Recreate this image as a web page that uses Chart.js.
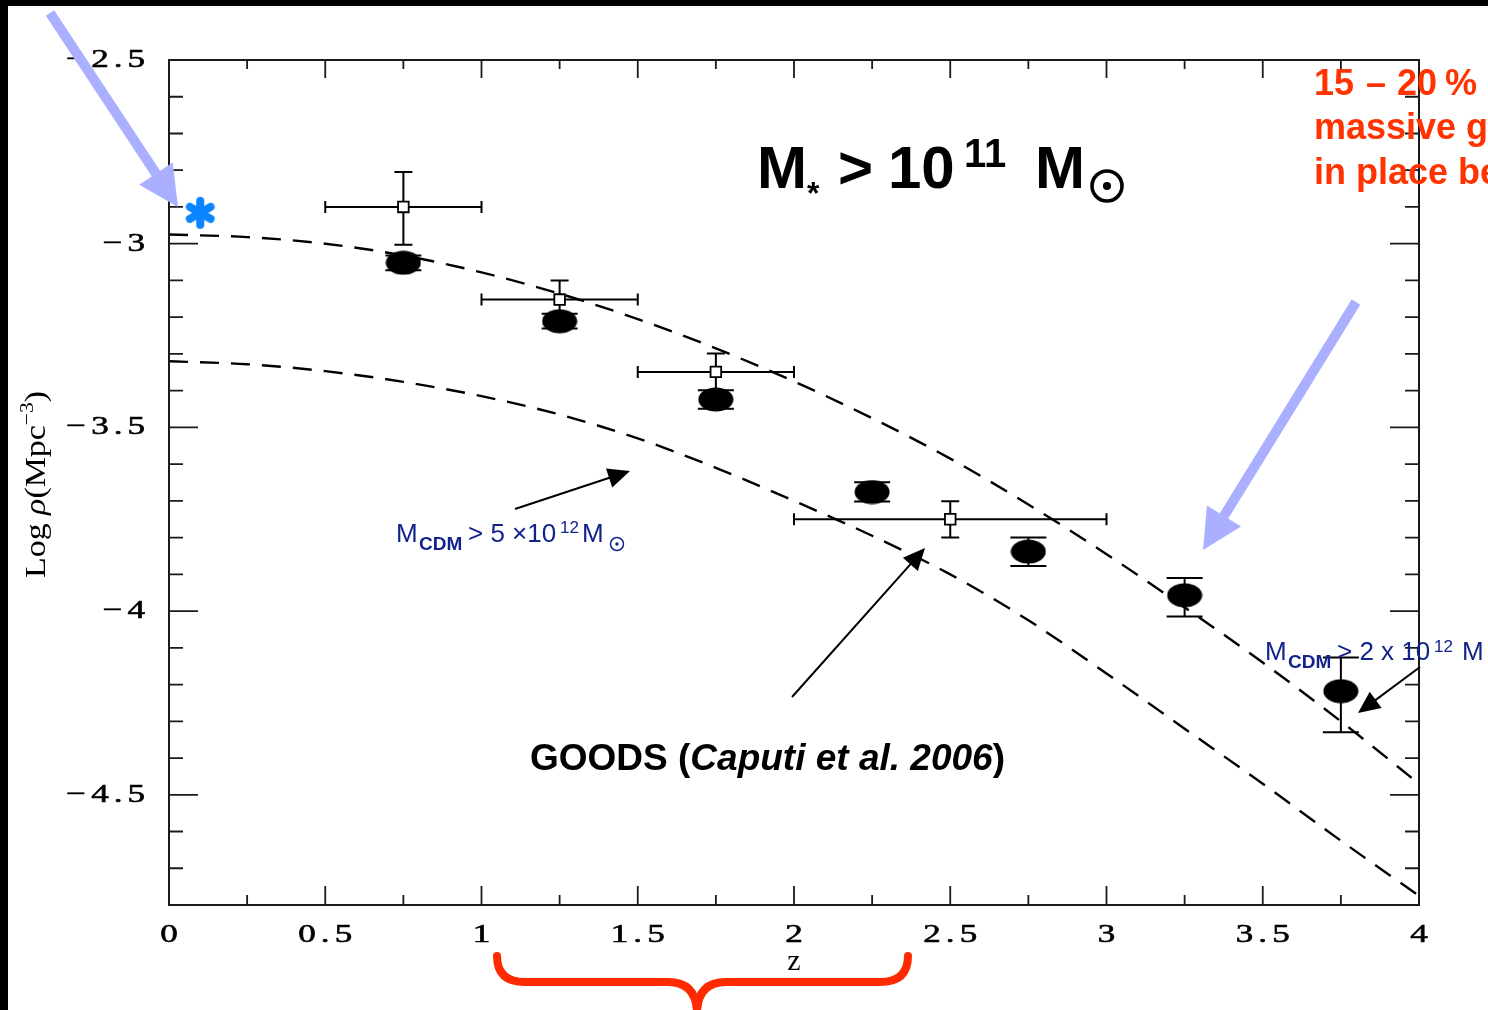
<!DOCTYPE html>
<html>
<head>
<meta charset="utf-8">
<title>Number density of massive galaxies</title>
<script src="https://cdn.jsdelivr.net/npm/chart.js@4.4.1/dist/chart.umd.min.js"></script>
<style>
  html, body { margin: 0; padding: 0; background: #000; overflow: hidden; }
  #densityChart { display: block; }
</style>
</head>
<body>
<canvas id="densityChart" width="1488" height="1010"></canvas>
<script>
// CDM halo number density above two mass cuts (dashed curves)
const zModel = [0, 0.25, 0.5, 0.75, 1, 1.25, 1.5, 1.75, 2, 2.25, 2.5, 2.75, 3, 3.25, 3.5, 3.75, 4];
const logRhoHalo2e12 = [-2.975, -2.982, -3.0, -3.032, -3.078, -3.136, -3.205, -3.285, -3.375, -3.475, -3.585, -3.71, -3.845, -3.99, -4.14, -4.30, -4.47];
const logRhoHalo5e12 = [-3.32, -3.328, -3.347, -3.376, -3.415, -3.465, -3.53, -3.61, -3.70, -3.795, -3.90, -4.025, -4.17, -4.32, -4.47, -4.625, -4.775];

// GOODS bins (Caputi et al. 2006), filled ellipses
const zGoods = [0.75, 1.25, 1.75, 2.25, 2.75, 3.25, 3.75];
const logRhoGoods = [-3.052, -3.211, -3.424, -3.676, -3.838, -3.957, -4.218];
const goodsErrUp = [0.02, 0.02, 0.025, 0.027, 0.038, 0.047, 0.092];
const goodsErrDown = [0.02, 0.02, 0.025, 0.026, 0.039, 0.058, 0.112];

// wide-field bins, open squares with redshift ranges
const zWide = [0.75, 1.25, 1.75, 2.5];
const logRhoWide = [-2.90, -3.152, -3.349, -3.75];
const zWideLo = [0.5, 1.0, 1.5, 2.0];
const zWideHi = [1.0, 1.5, 2.0, 3.0];
const wideErrUp = [0.095, 0.052, 0.05, 0.049];
const wideErrDown = [0.103, 0.045, 0.05, 0.05];

// local value
const zLocal = [0.1];
const logRhoLocal = [-2.916];

const xTickLabels = ['0', '0.5', '1', '1.5', '2', '2.5', '3', '3.5', '4'];
const yTickLabels = ['−2.5', '−3', '−3.5', '−4', '−4.5'];

const SERIF = '"Liberation Serif", "DejaVu Serif", serif';
const SANS = '"Liberation Sans", Arial, sans-serif';
const NAVY = '#13238c';
const RED = '#ff3300';

function toPoints(xs, ys) {
  return xs.map((v, i) => ({ x: v, y: ys[i] }));
}

function makeEllipseMarker() {
  const c = document.createElement('canvas');
  c.width = 36; c.height = 25;
  const g = c.getContext('2d');
  g.fillStyle = '#000';
  g.beginPath();
  g.ellipse(18, 12.5, 17.5, 12, 0, 0, Math.PI * 2);
  g.fill();
  return c;
}

function makeStarMarker() {
  const c = document.createElement('canvas');
  c.width = 40; c.height = 40;
  const g = c.getContext('2d');
  g.strokeStyle = '#0a84ff';
  g.lineWidth = 8;
  g.lineCap = 'round';
  g.beginPath();
  [90, 30, 150].forEach(deg => {
    const a = deg * Math.PI / 180;
    g.moveTo(20 - 12 * Math.cos(a), 20 - 12 * Math.sin(a));
    g.lineTo(20 + 12 * Math.cos(a), 20 + 12 * Math.sin(a));
  });
  g.stroke();
  return c;
}

// spaced, horizontally stretched text for the axis numbers
function drawSpaced(ctx, text, x, y, align, sx, gap) {
  const chars = Array.from(text);
  const widths = chars.map(ch => ctx.measureText(ch).width * sx);
  const total = widths.reduce((s, w) => s + w, 0) + gap * (chars.length - 1);
  let cx = align === 'right' ? x - total : align === 'center' ? x - total / 2 : x;
  chars.forEach((ch, i) => {
    ctx.save();
    ctx.translate(cx, y);
    ctx.scale(sx, 1);
    ctx.textAlign = 'left';
    ctx.fillText(ch, 0, 0);
    ctx.strokeText(ch, 0, 0);
    ctx.restore();
    cx += widths[i] + gap;
  });
}

function drawSun(ctx, cx, cy, r, lw, color) {
  ctx.save();
  ctx.strokeStyle = color;
  ctx.fillStyle = color;
  ctx.lineWidth = lw;
  ctx.beginPath();
  ctx.arc(cx, cy, r, 0, Math.PI * 2);
  ctx.stroke();
  ctx.beginPath();
  ctx.arc(cx, cy, Math.max(1.6, r * 0.27), 0, Math.PI * 2);
  ctx.fill();
  ctx.restore();
}

function drawPieces(ctx, color, pieces) {
  ctx.save();
  ctx.fillStyle = color;
  ctx.textAlign = 'left';
  ctx.textBaseline = 'alphabetic';
  pieces.forEach(([t, font, x, y]) => {
    ctx.font = font;
    ctx.fillText(t, x, y);
  });
  ctx.restore();
}

function drawArrow(ctx, x0, y0, x1, y1, color, lw, headLen, headHalf) {
  const dx = x1 - x0, dy = y1 - y0;
  const len = Math.hypot(dx, dy);
  const ux = dx / len, uy = dy / len;
  const bx = x1 - ux * headLen, by = y1 - uy * headLen;
  ctx.save();
  ctx.strokeStyle = color;
  ctx.fillStyle = color;
  ctx.lineWidth = lw;
  ctx.beginPath();
  ctx.moveTo(x0, y0);
  ctx.lineTo(bx + ux * 2, by + uy * 2);
  ctx.stroke();
  ctx.beginPath();
  ctx.moveTo(x1, y1);
  ctx.lineTo(bx - uy * headHalf, by + ux * headHalf);
  ctx.lineTo(bx + uy * headHalf, by - ux * headHalf);
  ctx.closePath();
  ctx.fill();
  ctx.restore();
}

function drawErrorBars(chart) {
  const { ctx, scales: { x, y } } = chart;
  ctx.save();
  ctx.strokeStyle = '#000';
  ctx.lineWidth = 2;
  ctx.beginPath();
  zGoods.forEach((z, i) => {
    const px = x.getPixelForValue(z);
    const top = y.getPixelForValue(logRhoGoods[i] + goodsErrUp[i]);
    const bot = y.getPixelForValue(logRhoGoods[i] - goodsErrDown[i]);
    ctx.moveTo(px, top); ctx.lineTo(px, bot);
    ctx.moveTo(px - 18, top); ctx.lineTo(px + 18, top);
    ctx.moveTo(px - 18, bot); ctx.lineTo(px + 18, bot);
  });
  zWide.forEach((z, i) => {
    const px = x.getPixelForValue(z);
    const py = y.getPixelForValue(logRhoWide[i]);
    const top = y.getPixelForValue(logRhoWide[i] + wideErrUp[i]);
    const bot = y.getPixelForValue(logRhoWide[i] - wideErrDown[i]);
    const left = x.getPixelForValue(zWideLo[i]);
    const right = x.getPixelForValue(zWideHi[i]);
    ctx.moveTo(px, top); ctx.lineTo(px, bot);
    ctx.moveTo(px - 9, top); ctx.lineTo(px + 9, top);
    ctx.moveTo(px - 9, bot); ctx.lineTo(px + 9, bot);
    ctx.moveTo(left, py); ctx.lineTo(right, py);
    ctx.moveTo(left, py - 6); ctx.lineTo(left, py + 6);
    ctx.moveTo(right, py - 6); ctx.lineTo(right, py + 6);
  });
  ctx.stroke();
  ctx.restore();
}

function drawAxes(chart) {
  const { ctx, chartArea: a, scales: { x, y } } = chart;
  ctx.save();
  ctx.strokeStyle = '#1a1a1a';
  ctx.lineWidth = 2;
  ctx.strokeRect(a.left, a.top, a.right - a.left, a.bottom - a.top);

  ctx.lineWidth = 1.8;
  ctx.beginPath();
  for (let i = 1; i < 16; i++) {
    const px = x.getPixelForValue(i * 0.25);
    const major = i % 2 === 0;
    ctx.moveTo(px, a.bottom); ctx.lineTo(px, a.bottom - (major ? 19 : 10));
    ctx.moveTo(px, a.top); ctx.lineTo(px, a.top + (major ? 18 : 9));
  }
  for (let i = 1; i < 23; i++) {
    const py = y.getPixelForValue(-4.8 + i * 0.1);
    const major = (i - 3) % 5 === 0;
    const len = major ? 29 : 14;
    ctx.moveTo(a.left, py); ctx.lineTo(a.left + len, py);
    ctx.moveTo(a.right, py); ctx.lineTo(a.right - len, py);
  }
  ctx.stroke();

  // tick numbers
  ctx.fillStyle = '#000';
  ctx.strokeStyle = '#000';
  ctx.lineWidth = 0.6;
  ctx.font = '26px ' + SERIF;
  ctx.textBaseline = 'alphabetic';
  xTickLabels.forEach(t => {
    drawSpaced(ctx, t, x.getPixelForValue(parseFloat(t)), a.bottom + 37, 'center', 1.35, 5);
  });
  ctx.textBaseline = 'middle';
  yTickLabels.forEach(t => {
    const v = parseFloat(t.replace('−', '-'));
    drawSpaced(ctx, t, a.left - 24, y.getPixelForValue(v), 'right', 1.35, 5);
  });

  // axis titles
  ctx.textBaseline = 'alphabetic';
  ctx.font = '30px ' + SERIF;
  ctx.textAlign = 'center';
  ctx.fillText('z', (a.left + a.right) / 2, 970);

  ctx.translate(45, 578);
  ctx.rotate(-Math.PI / 2);
  const runs = [
    ['Log ', '30px "Liberation Serif"', 0],
    ['ρ', 'italic 30px "Liberation Serif"', 0],
    ['(Mpc', '30px "Liberation Serif"', 0],
    ['−3', '19px "Liberation Serif"', -12],
    [')', '30px "Liberation Serif"', 0]
  ];
  let total = 0;
  runs.forEach(([t, f]) => { ctx.font = f; total += ctx.measureText(t).width; });
  ctx.scale(187 / total, 1);
  ctx.textAlign = 'left';
  let cx = 0;
  runs.forEach(([t, f, dy]) => {
    ctx.font = f;
    ctx.fillText(t, cx, dy);
    cx += ctx.measureText(t).width;
  });
  ctx.restore();
}

function drawNotes(chart) {
  const { ctx } = chart;

  // title
  drawPieces(ctx, '#000', [
    ['M', 'bold 60px ' + SANS, 757, 188],
    ['*', 'bold 32px ' + SANS, 807, 204],
    ['>', 'bold 60px ' + SANS, 838, 188],
    ['10', 'bold 60px ' + SANS, 888, 188],
    ['11', 'bold 40px ' + SANS, 964, 167],
    ['M', 'bold 60px ' + SANS, 1035, 188]
  ]);
  drawSun(ctx, 1107, 186, 15, 3.6, '#000');

  // halo mass labels
  drawPieces(ctx, NAVY, [
    ['M', '26px ' + SANS, 396, 542],
    ['CDM', 'bold 19px ' + SANS, 419, 550],
    ['> 5 ×10', '26px ' + SANS, 468, 542],
    ['12', '17px ' + SANS, 560, 533],
    ['M', '26px ' + SANS, 582, 542]
  ]);
  drawSun(ctx, 617, 544, 6.5, 1.5, NAVY);

  drawPieces(ctx, NAVY, [
    ['M', '26px ' + SANS, 1265, 660],
    ['CDM', 'bold 19px ' + SANS, 1288, 668],
    ['> 2 x 10', '26px ' + SANS, 1337, 660],
    ['12', '17px ' + SANS, 1434, 652],
    ['M', '26px ' + SANS, 1462, 660]
  ]);
  drawSun(ctx, 1496, 662, 6.5, 1.5, NAVY);

  // survey label
  ctx.save();
  ctx.fillStyle = '#000';
  ctx.textAlign = 'left';
  ctx.font = 'bold 37px ' + SANS;
  let gx = 530;
  ctx.fillText('GOODS (', gx, 770);
  gx += ctx.measureText('GOODS (').width;
  ctx.font = 'italic bold 37px ' + SANS;
  ctx.fillText('Caputi et al. 2006', gx, 770);
  gx += ctx.measureText('Caputi et al. 2006').width;
  ctx.font = 'bold 37px ' + SANS;
  ctx.fillText(')', gx, 770);
  ctx.restore();

  // red side note
  const redFont = 'bold 36px ' + SANS;
  drawPieces(ctx, RED, [
    ['15', redFont, 1314, 95],
    ['–', redFont, 1366, 95],
    ['20', redFont, 1397, 95],
    ['% of', redFont, 1445, 95],
    ['massive galaxies', redFont, 1314, 139],
    ['in place before', redFont, 1314, 184]
  ]);

  // pointer arrows
  drawArrow(ctx, 515, 509, 630, 471, '#000', 2, 22, 10);
  drawArrow(ctx, 792, 697, 925, 548, '#000', 2, 22, 10);
  drawArrow(ctx, 1420, 667, 1358, 713, '#000', 2, 22, 10);
  drawArrow(ctx, 50, 13, 178, 207, '#aab0ff', 10, 40, 20);
  drawArrow(ctx, 1356, 302, 1203, 550, '#aab0ff', 10, 40, 20);

  // brace under the GOODS redshift range
  ctx.save();
  ctx.strokeStyle = '#ff2a00';
  ctx.lineWidth = 8;
  ctx.lineCap = 'round';
  ctx.beginPath();
  ctx.moveTo(497, 956);
  ctx.quadraticCurveTo(497, 982, 525, 982);
  ctx.lineTo(668, 982);
  ctx.quadraticCurveTo(697, 982, 697, 1014);
  ctx.moveTo(908, 956);
  ctx.quadraticCurveTo(908, 982, 880, 982);
  ctx.lineTo(726, 982);
  ctx.quadraticCurveTo(697, 982, 697, 1014);
  ctx.stroke();
  ctx.restore();
}

const slideDecor = {
  id: 'slideDecor',
  beforeDraw(chart) {
    const { ctx, width, height } = chart;
    ctx.save();
    ctx.fillStyle = '#000';
    ctx.fillRect(0, 0, width, height);
    ctx.fillStyle = '#fff';
    ctx.fillRect(8, 6, width - 8, height - 6);
    ctx.restore();
  },
  beforeDatasetsDraw(chart) {
    drawErrorBars(chart);
  },
  afterDraw(chart) {
    drawAxes(chart);
    drawNotes(chart);
  }
};

const dashedLine = {
  showLine: true,
  borderColor: '#000',
  borderWidth: 2.4,
  borderDash: [19, 12],
  pointRadius: 0,
  cubicInterpolationMode: 'monotone',
  fill: false
};

new Chart(document.getElementById('densityChart'), {
  type: 'scatter',
  data: {
    datasets: [
      {
        label: 'local',
        data: toPoints(zLocal, logRhoLocal),
        pointStyle: makeStarMarker(),
        pointRadius: 18
      },
      {
        label: 'GOODS',
        data: toPoints(zGoods, logRhoGoods),
        pointStyle: makeEllipseMarker(),
        pointRadius: 18
      },
      {
        label: 'wide field',
        data: toPoints(zWide, logRhoWide),
        pointStyle: 'rect',
        pointRadius: 7.5,
        borderColor: '#000',
        borderWidth: 1.8,
        backgroundColor: '#fff'
      },
      Object.assign({ label: 'M_CDM > 2e12', data: toPoints(zModel, logRhoHalo2e12) }, dashedLine),
      Object.assign({ label: 'M_CDM > 5e12', data: toPoints(zModel, logRhoHalo5e12) }, dashedLine)
    ]
  },
  options: {
    responsive: false,
    animation: false,
    events: [],
    layout: { padding: { left: 169, top: 60, right: 69, bottom: 105 } },
    plugins: { legend: { display: false }, tooltip: { enabled: false } },
    scales: {
      x: { type: 'linear', min: 0, max: 4, display: false },
      y: { type: 'linear', min: -4.8, max: -2.5, display: false }
    }
  },
  plugins: [slideDecor]
});
</script>
</body>
</html>
